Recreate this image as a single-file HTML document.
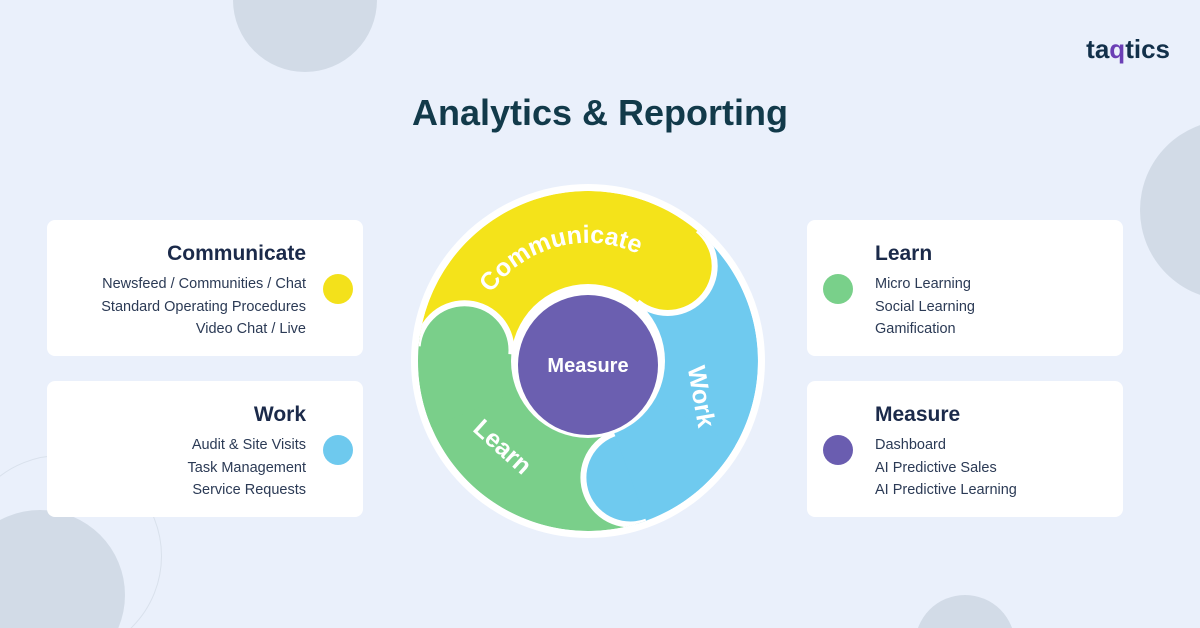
<!DOCTYPE html>
<html style="height:628px;overflow:hidden"><head><meta charset="utf-8"><style>
html,body{margin:0;padding:0}
#w{width:1200px;height:628px;overflow:hidden;background:#eaf0fb;font-family:"Liberation Sans",sans-serif;position:relative}
.c{position:absolute;border-radius:50%;background:#d2dbe7}
.card{position:absolute;background:#fff;border-radius:8px;width:316px;height:136px}
.card h3{margin:0;position:absolute;font-size:21px;font-weight:bold;color:#1b2a4a;top:22px}
.card p{margin:0;position:absolute;font-size:14.5px;line-height:22.5px;color:#2b3a55;top:53px}
.l h3,.l p{right:57px;text-align:right}
.r h3,.r p{left:68px}
.dot{position:absolute;width:30px;height:30px;border-radius:50%;top:54px}
.l .dot{right:10px}.r .dot{left:16px}
</style></head><body><div id="w">
<div class="c" style="left:233px;top:-72px;width:144px;height:144px"></div>
<div class="c" style="left:1140px;top:120px;width:180px;height:180px"></div>
<div class="c" style="left:-45px;top:510px;width:170px;height:170px"></div>
<div class="c" style="left:915px;top:595px;width:100px;height:100px"></div>
<div style="position:absolute;left:-40px;top:455px;width:200px;height:200px;border-radius:50%;border:1px solid #d9e1ec"></div>
<div style="position:absolute;right:30px;top:34px;font-size:26px;font-weight:bold;color:#12304a">ta<span style="color:#6b3fb5">q</span>tics</div>
<div style="position:absolute;left:0;width:1200px;top:92px;text-align:center;font-size:36px;font-weight:bold;color:#123a4a">Analytics &amp; Reporting</div>

<div class="card l" style="left:47px;top:220px"><h3>Communicate</h3><p>Newsfeed / Communities / Chat<br>Standard Operating Procedures<br>Video Chat / Live</p><div class="dot" style="background:#f3e11b"></div></div>
<div class="card l" style="left:47px;top:381px"><h3>Work</h3><p>Audit &amp; Site Visits<br>Task Management<br>Service Requests</p><div class="dot" style="background:#6ec9ee"></div></div>
<div class="card r" style="left:807px;top:220px"><h3>Learn</h3><p>Micro Learning<br>Social Learning<br>Gamification</p><div class="dot" style="background:#79d08a"></div></div>
<div class="card r" style="left:807px;top:381px"><h3>Measure</h3><p>Dashboard<br>AI Predictive Sales<br>AI Predictive Learning</p><div class="dot" style="background:#6a5db0"></div></div>

<svg style="position:absolute;left:0;top:0" width="1200" height="628">
<defs>
<clipPath id="ring"><path fill-rule="evenodd" d="M588,191a170,170 0 1,0 0.01,0Z M588,284a77,77 0 1,0 0.01,0Z"/></clipPath>
<path id="arc" d="M470.4,350.7 A118,118 0 0,1 684.7,293.3" fill="none"/>
</defs>
<circle cx="588" cy="361" r="177" fill="#fff"/>
<g clip-path="url(#ring)" stroke="none">
<path fill="#f4e31a" d="M588,361 L418.6,346.2 A170,170 0 0,1 697.3,230.8 Z"/>
<path fill="#6fcaef" d="M588,361 L697.3,230.8 A170,170 0 0,1 646.1,520.7 Z"/>
<path fill="#7acf8a" d="M588,361 L646.1,520.7 A170,170 0 0,1 418.6,346.2 Z"/>
<circle cx="464.5" cy="350.2" r="47" fill="#7acf8a" stroke="#fff" stroke-width="6"/>
<path fill="#7acf8a" d="M588,361 L431.4,427.6 A170,170 0 0,1 418.6,346.2 Z"/>
<circle cx="630.4" cy="477.5" r="47" fill="#6fcaef" stroke="#fff" stroke-width="6"/>
<path fill="#6fcaef" d="M588,361 L735.2,446 A170,170 0 0,1 646.1,520.7 Z"/>
<circle cx="667.7" cy="266" r="47" fill="#f4e31a" stroke="#fff" stroke-width="6"/>
<path fill="#f4e31a" d="M588,361 L617.5,193.6 A170,170 0 0,1 697.3,230.8 Z"/>
</g>
<circle cx="588" cy="361" r="77" fill="#fff"/>
<circle cx="588" cy="365" r="70" fill="#6b5fb0"/>
<text x="588" y="372" text-anchor="middle" font-size="20" font-weight="bold" fill="#fff" font-family="Liberation Sans">Measure</text>
<text font-size="25" font-weight="bold" fill="#fff" font-family="Liberation Sans"><textPath href="#arc" startOffset="50%" text-anchor="middle">Communicate</textPath></text>
<text transform="translate(693,398) rotate(80)" text-anchor="middle" font-size="25" font-weight="bold" fill="#fff" font-family="Liberation Sans">Work</text>
<text transform="translate(497,453) rotate(42)" text-anchor="middle" font-size="25" font-weight="bold" fill="#fff" font-family="Liberation Sans">Learn</text>
</svg>
</div></body></html>
